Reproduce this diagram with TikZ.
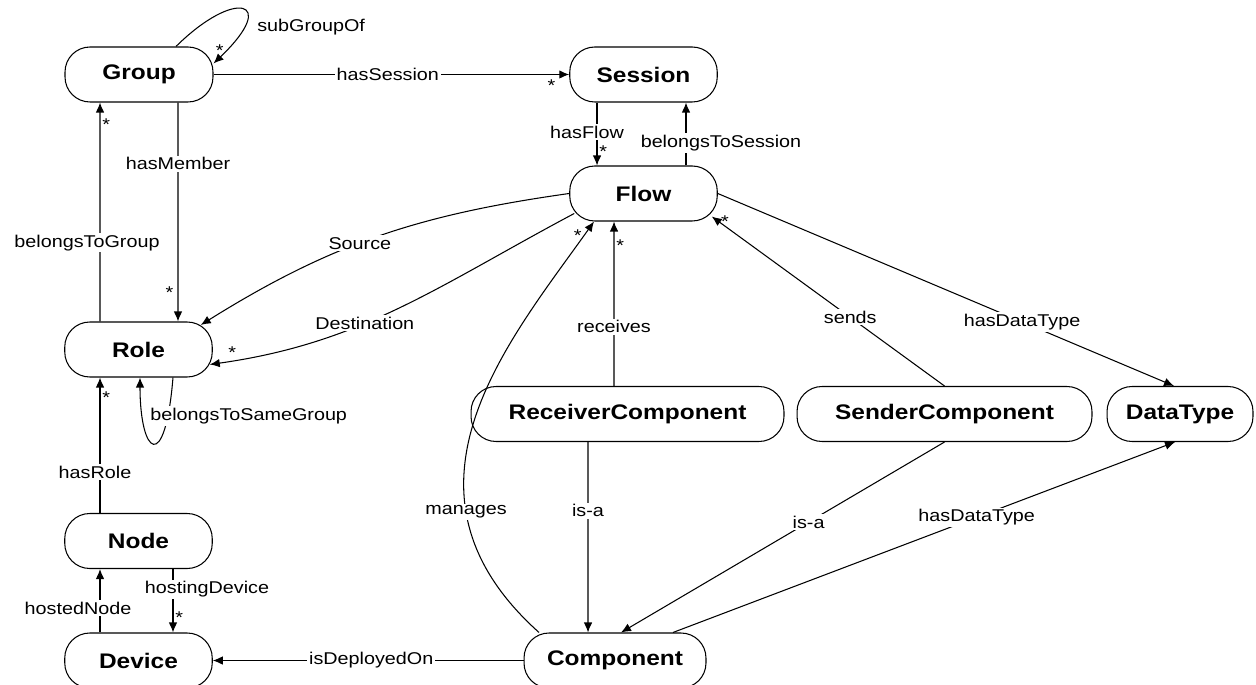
\documentclass[tikz,border=0pt]{standalone}
\usepackage{fontspec}
\setmainfont{Liberation Sans}[FakeStretch=1.16]
\usetikzlibrary{arrows.meta}
\begin{document}
\begin{tikzpicture}[x=0.02cm,y=-0.02cm,>={Latex[length=2mm,width=1.7mm]},line width=0.6pt]
\tikzset{
  cls/.style={draw,shape=rectangle,rounded corners=0.5cm,minimum height=1.1cm,minimum width=2.95cm,inner sep=0pt,font=\fontsize{12pt}{14pt}\selectfont\bfseries},
  lbl/.style={fill=white,inner sep=1pt,font=\fontsize{9.7pt}{11pt}\selectfont},
  mult/.style={inner sep=1pt,font=\fontsize{9.7pt}{11pt}\selectfont}
}
\clip (0,0) rectangle (1256,685);
\node[cls,minimum width=2.96cm] (group) at (139,74.5) {Group};
\node[cls] (session) at (643.5,74.5) {Session};
\node[cls] (flow) at (643.5,193.5) {Flow};
\node[cls] (role) at (138.5,349.5) {Role};
\node[cls] (netnode) at (138.5,541) {Node};
\node[cls] (device) at (138.5,660.5) {Device};
\node[cls,minimum width=6.26cm] (receiver) at (627.5,414) {ReceiverComponent};
\node[cls,minimum width=5.9cm] (sender) at (944.5,414) {SenderComponent};
\node[cls,minimum width=2.92cm] (datatype) at (1180,414) {DataType};
\node[cls,minimum width=3.64cm] (component) at (615,660.5) {Component};
\draw[->] ([xshift=0.74cm]group.north) .. controls (235,-12) and (280,0) .. node[pos=0.6,anchor=west,xshift=0.18cm,yshift=-0.28cm,mult]{subGroupOf} node[pos=0.93,left,mult]{*} ([yshift=0.22cm]group.east);
\draw[->] (group) -- node[lbl,pos=0.49]{hasSession} node[pos=0.95,below,yshift=-0.05cm,mult]{*} (session);
\draw[->] ([xshift=0.78cm]group.south) -- node[lbl,pos=0.28]{hasMember} node[pos=0.87,left,xshift=-0.05cm,mult]{*} ([xshift=0.79cm]role.north);
\draw[->] ([xshift=-0.77cm]role.north) -- node[lbl,pos=0.36,xshift=-0.26cm]{belongsToGroup} node[pos=0.9,right,mult]{*} ([xshift=-0.78cm]group.south);
\draw[->] ([xshift=-0.93cm]session.south) -- node[lbl,pos=0.47,xshift=-0.2cm]{hasFlow} node[pos=0.78,right,mult]{*} ([xshift=-0.93cm]flow.north);
\draw[->] ([xshift=0.85cm]flow.north) -- node[lbl,pos=0.36,xshift=0.7cm]{belongsToSession} ([xshift=0.85cm]session.south);
\draw[->] (flow.west) to[out=188,in=32] node[lbl,pos=0.55]{Source} ([xshift=-0.24cm,yshift=-0.07cm]role.north east);
\draw[->] ([xshift=0.1cm,yshift=-0.4cm]flow.west) to[out=208,in=8] node[lbl,pos=0.6]{Destination} node[pos=0.95,above,mult]{*} ([xshift=-0.06cm,yshift=-0.3cm]role.east);
\draw[->] ([xshift=0.69cm]role.south) .. controls (165,475) and (140,455) .. node[pos=0.2,anchor=west,xshift=-0.37cm,yshift=0.13cm,lbl]{belongsToSameGroup} ([xshift=0.03cm]role.south);
\draw[->] ([xshift=-0.77cm]netnode.north) -- node[lbl,pos=0.3,xshift=-0.1cm]{hasRole} node[pos=0.85,right,mult]{*} ([xshift=-0.77cm]role.south);
\draw[->] ([xshift=-0.77cm]device.north) -- node[lbl,pos=0.38,xshift=-0.44cm]{hostedNode} ([xshift=-0.77cm]netnode.south);
\draw[->] ([xshift=0.69cm]netnode.south) -- node[lbl,pos=0.32,xshift=0.68cm]{hostingDevice} node[pos=0.77,right,mult]{*} ([xshift=0.69cm]device.north);
\draw[->] (component) -- node[lbl,pos=0.49]{isDeployedOn} (device);
\draw[->] ([xshift=-1.52cm]component.north) .. controls (380,490) and (510,340) .. node[lbl,pos=0.28]{manages} node[pos=0.96,left,mult]{*} ([xshift=-0.99cm]flow.south);
\draw[->] ([xshift=-0.27cm]receiver.north) -- node[lbl,pos=0.36]{receives} node[pos=0.855,right,mult]{*} ([xshift=-0.59cm]flow.south);
\draw[->] (sender.north) -- node[lbl,pos=0.405]{sends} node[pos=0.97,right,mult]{*} ([xshift=-0.12cm,yshift=0.1cm]flow.south east);
\draw[->] (flow.east) -- node[lbl,pos=0.667]{hasDataType} ([xshift=-0.12cm]datatype.north);
\draw[->] ([xshift=-0.79cm]receiver.south) -- node[lbl,pos=0.36]{is-a} ([xshift=-0.54cm]component.north);
\draw[->] (sender.south) -- node[lbl,pos=0.42]{is-a} ([xshift=0.12cm]component.north);
\draw[->] ([xshift=1.16cm]component.north) -- node[lbl,pos=0.605]{hasDataType} ([xshift=-0.1cm]datatype.south);
\end{tikzpicture}
\end{document}
